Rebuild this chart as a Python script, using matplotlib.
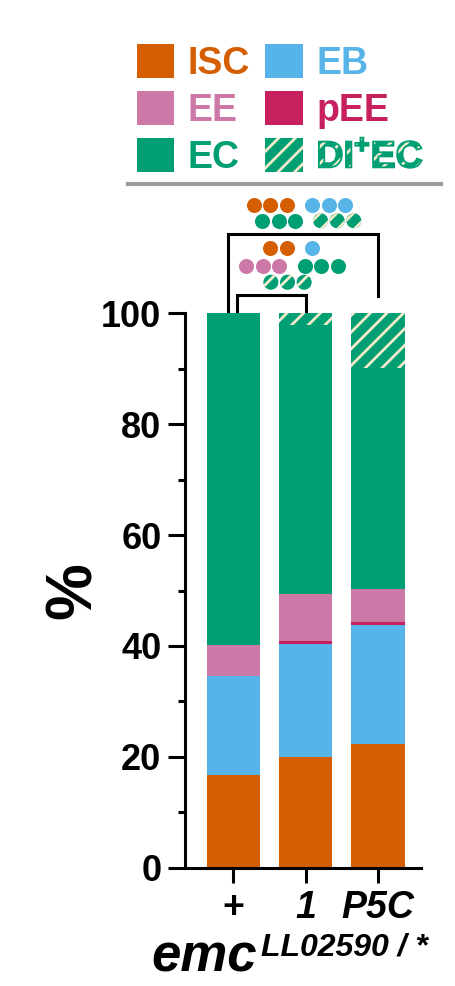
import numpy as np
import matplotlib
matplotlib.use('Agg')
import matplotlib.pyplot as plt
import matplotlib.patheffects as pe
from matplotlib.lines import Line2D
from matplotlib.patches import Patch

plt.rcParams['font.family'] = ['Liberation Sans', 'DejaVu Sans']
plt.rcParams['font.weight'] = 'bold'
plt.rcParams['hatch.color'] = '#F3EBCB'
plt.rcParams['hatch.linewidth'] = 2.0
plt.rcParams['mathtext.fontset'] = 'custom'
plt.rcParams['mathtext.rm'] = 'Liberation Sans:bold'
plt.rcParams['mathtext.bf'] = 'Liberation Sans:bold'

# data (% of cells per genotype)
genotypes = ['+', '1', 'P5C']
isc = [16.7, 20.0, 22.3]
eb = [17.9, 20.3, 21.5]
pee = [0.0, 0.6, 0.6]
ee = [5.5, 8.5, 5.8]
ec = [59.9, 48.5, 39.9]
di_ec = [0.0, 2.1, 9.9]

stack_order = ['ISC', 'EB', 'pEE', 'EE', 'EC', 'DI+EC']
stack_vals = [isc, eb, pee, ee, ec, di_ec]
legend_order = ['ISC', 'EE', 'EC', 'EB', 'pEE', 'DI+EC']
legend_labels = ['ISC', 'EE', 'EC', 'EB', 'pEE', r'DI$^{+}$EC']

colors = {'ISC': '#D55E00', 'EB': '#56B4E9', 'pEE': '#C8205F',
          'EE': '#CC79A7', 'EC': '#009E73', 'DI+EC': '#009E73'}
cream = '#F3EBCB'

# significance: compared bars, bracket height, rows of (cell type, number of dots)
comparisons = [(0, 2), (0, 1)]
bracket_y = [114.3, 103.3]
sig_rows = [
    [[('ISC', 3), ('EB', 3)], [('EC', 3), ('DI+EC', 3)]],
    [[('ISC', 2), ('EB', 1)], [('EE', 3), ('EC', 3)], [('DI+EC', 3)]],
]
row_x = [[0.916, 1.032], [0.802, 0.811, 0.75]]
row_y = [[119.6, 116.7], [111.7, 108.6, 105.6]]

fig = plt.figure(figsize=(4.56, 9.86), dpi=100)
ax = fig.add_axes([185 / 456, 118.3 / 986, 235.7 / 456, 554.4 / 986])

x = np.arange(len(genotypes))
bottom = np.zeros(len(genotypes))
for name, vals in zip(stack_order, stack_vals):
    ax.bar(x, vals, bottom=bottom, width=0.737, color=colors[name], linewidth=0,
           hatch='//' if name == 'DI+EC' else None)
    bottom += np.array(vals)

ax.set_xlim(-0.668, 2.592)
ax.set_ylim(0, 100)
ax.set_yticks(np.arange(0, 101, 20))
ax.set_yticks(np.arange(0, 101, 10), minor=True)
ax.set_xticks(x)
ax.set_xticklabels(genotypes)
for lab, style in zip(ax.get_xticklabels(), ['normal', 'italic', 'italic']):
    lab.set_fontstyle(style)
for s in ['top', 'right']:
    ax.spines[s].set_visible(False)
for s in ['left', 'bottom']:
    ax.spines[s].set_linewidth(2.2)
ax.tick_params(axis='y', which='major', length=12, width=2.2, pad=5, labelsize=26)
ax.tick_params(axis='y', which='minor', length=5, width=2.2)
ax.tick_params(axis='x', length=11, width=2.2, pad=5, labelsize=27)
ax.set_ylabel('%', fontsize=46, fontweight='bold')
ax.yaxis.set_label_coords(-0.345, 0.5)

# brackets
leg_dx = [(-0.069, 0.0), (0.055, 0.0)]
for (a, b), h, (da, db) in zip(comparisons, bracket_y, leg_dx):
    ax.plot([a + da, a + da, b + db, b + db], [100.5, h, h, 103.2 if b == 2 else 100.5],
            color='black', lw=2.2, clip_on=False, solid_joinstyle='miter')

# dots
step, gap = 0.23, 0.35
for rows, xs, ys in zip(sig_rows, row_x, row_y):
    for row, cx, cy in zip(rows, xs, ys):
        kinds = []
        pos = []
        p = 0.0
        for name, n in row:
            for k in range(n):
                if pos:
                    p += gap if k == 0 else step
                pos.append(p)
                kinds.append(name)
        pos = np.array(pos) - (pos[0] + pos[-1]) / 2 + cx
        for px, name in zip(pos, kinds):
            if name == 'DI+EC':
                ax.scatter([px], [cy], s=117, facecolors=colors[name], edgecolors=cream,
                           linewidths=0, hatch='//', clip_on=False, zorder=5)
            else:
                ax.scatter([px], [cy], s=117, facecolors=colors[name], linewidths=0,
                           clip_on=False, zorder=5)

# legend
handles = [Patch(facecolor=colors[c], linewidth=0, hatch='//' if c == 'DI+EC' else None)
           for c in legend_order]
leg = fig.legend(handles, legend_labels, ncol=2, loc='upper left',
                 bbox_to_anchor=(137 / 456, 1 - 44 / 986), frameon=False,
                 prop={'size': 27, 'weight': 'bold'}, handlelength=1.0, handleheight=1.0,
                 handletextpad=0.36, columnspacing=0.4, labelspacing=0.25,
                 borderpad=0, borderaxespad=0)
for t, c in zip(leg.get_texts(), legend_order):
    t.set_color(colors[c])
    if c == 'DI+EC':
        t.set_path_effects([
            pe.PathPatchEffect(facecolor=colors['EC'], edgecolor=cream, hatch='//', linewidth=0),
            pe.PathPatchEffect(facecolor='none', edgecolor=colors['EC'], linewidth=1.3),
        ])

fig.add_artist(Line2D([128 / 456, 441 / 456], [1 - 184.3 / 986] * 2,
                      transform=fig.transFigure, color='#9A9A9A', lw=3))

# x label: emc^{LL02590 / *}
emc = fig.text(151 / 456, (986 - 971) / 986, 'emc', fontsize=38, fontweight='bold',
               fontstyle='italic', ha='left', va='baseline')
ax.annotate('LL02590 / *', xy=(1, 0), xycoords=emc, xytext=(4, 27),
            textcoords='offset pixels', fontsize=23, fontweight='bold',
            fontstyle='italic', ha='left', va='baseline')

fig.savefig('out.png', dpi=100)
